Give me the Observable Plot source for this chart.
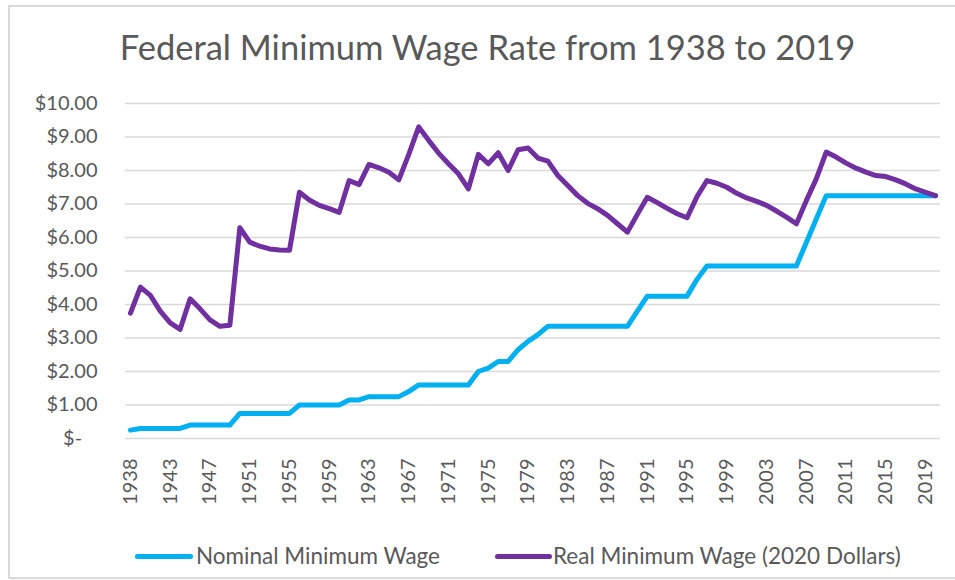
<!DOCTYPE html>
<html><head><meta charset="utf-8">
<script src="https://cdn.jsdelivr.net/npm/d3@7"></script>
<script src="https://cdn.jsdelivr.net/npm/@observablehq/plot@0.6"></script>
<style>
body{margin:0;background:#fff;font-family:Lato,"Open Sans",sans-serif;}
#wrap{position:relative;width:955px;height:580px;overflow:hidden;background:#fff;}
#frame{position:absolute;left:8px;top:5px;width:1000px;height:574px;border:2px solid #d9d9d9;border-right:none;box-sizing:border-box;}
#title{position:absolute;left:0;width:975px;top:30px;text-align:center;font-size:34.5px;line-height:34px;font-weight:400;color:#595959;white-space:nowrap;}
#chart{position:absolute;left:0;top:80px;}
.sw{position:absolute;height:5px;border-radius:3px;top:554px;}
.lt{position:absolute;top:543px;font-size:22.5px;line-height:26px;color:#595959;white-space:nowrap;}
</style></head>
<body>
<div id="wrap">
  <div id="frame"></div>
  <div id="title">Federal Minimum Wage Rate from 1938 to 2019</div>
  <div id="chart"></div>
  <div class="sw" style="left:135px;width:58px;background:#00b0f0"></div>
  <div class="lt" style="left:196px">Nominal Minimum Wage</div>
  <div class="sw" style="left:495px;width:57px;background:#7030a0"></div>
  <div class="lt" style="left:553px">Real Minimum Wage (2020 Dollars)</div>
</div>
<script>
const years = [1938,1939,1940,1942,1943,1944,1945,1946,1947,1948,1949,1950,1951,1952,1953,1954,1955,1956,1957,1958,1959,1960,1961,1962,1963,1964,1965,1966,1967,1968,1969,1970,1971,1972,1973,1974,1975,1976,1977,1978,1979,1980,1981,1982,1983,1984,1985,1986,1987,1988,1989,1990,1991,1992,1993,1994,1995,1996,1997,1998,1999,2000,2001,2002,2003,2004,2005,2006,2007,2008,2009,2010,2011,2012,2013,2014,2015,2016,2017,2018,2019,2020];
const nominalWage = [0.25,0.30,0.30,0.30,0.30,0.30,0.40,0.40,0.40,0.40,0.40,0.75,0.75,0.75,0.75,0.75,0.75,1.00,1.00,1.00,1.00,1.00,1.15,1.15,1.25,1.25,1.25,1.25,1.40,1.60,1.60,1.60,1.60,1.60,1.60,2.00,2.10,2.30,2.30,2.65,2.90,3.10,3.35,3.35,3.35,3.35,3.35,3.35,3.35,3.35,3.35,3.80,4.25,4.25,4.25,4.25,4.25,4.75,5.15,5.15,5.15,5.15,5.15,5.15,5.15,5.15,5.15,5.15,5.85,6.55,7.25,7.25,7.25,7.25,7.25,7.25,7.25,7.25,7.25,7.25,7.25,7.25];
const realWage = [3.74,4.52,4.27,3.80,3.45,3.26,4.17,3.87,3.54,3.35,3.38,6.29,5.86,5.74,5.66,5.63,5.62,7.35,7.12,6.96,6.86,6.75,7.70,7.58,8.18,8.08,7.95,7.72,8.48,9.30,8.90,8.52,8.20,7.90,7.45,8.48,8.20,8.53,8.00,8.62,8.67,8.37,8.28,7.85,7.55,7.25,7.02,6.86,6.66,6.41,6.16,6.69,7.20,7.04,6.87,6.71,6.59,7.22,7.70,7.62,7.50,7.32,7.18,7.08,6.96,6.79,6.61,6.41,7.10,7.75,8.55,8.40,8.22,8.07,7.95,7.85,7.82,7.72,7.60,7.45,7.35,7.25];
const xTicks = [1938,1943,1947,1951,1955,1959,1963,1967,1971,1975,1979,1983,1987,1991,1995,1999,2003,2007,2011,2015,2019];
const yTicks = [0,1,2,3,4,5,6,7,8,9,10];

const rows = years.map((y, i) => ({year: y, nominal: nominalWage[i], real: realWage[i]}));

const chart = Plot.plot({
  width: 955,
  height: 440,
  marginTop: 23,
  marginBottom: 82,
  marginLeft: 125,
  marginRight: 15,
  style: {fontFamily: "Lato, 'Open Sans', sans-serif", fontSize: "20px", color: "#595959", background: "transparent", overflow: "visible"},
  x: {type: "point", domain: years, padding: 0.5},
  y: {domain: [0, 10]},
  marks: [
    Plot.ruleY(yTicks, {stroke: "#d9d9d9", strokeWidth: 1.5}),
    Plot.axisY({ticks: yTicks, tickSize: 0, tickPadding: 28, label: null,
      tickFormat: d => d === 0 ? "$-\u00a0\u00a0\u00a0" : "$" + d.toFixed(2)}),
    Plot.axisX({ticks: xTicks, tickSize: 0, tickPadding: 20, tickRotate: -90, label: null, tickFormat: d => String(d)}),
    Plot.line(rows, {x: "year", y: "nominal", stroke: "#00b0f0", strokeWidth: 5, strokeLinejoin: "round", strokeLinecap: "round"}),
    Plot.line(rows, {x: "year", y: "real", stroke: "#7030a0", strokeWidth: 5, strokeLinejoin: "round", strokeLinecap: "round"})
  ]
});
document.getElementById("chart").appendChild(chart);
</script>
</body></html>
